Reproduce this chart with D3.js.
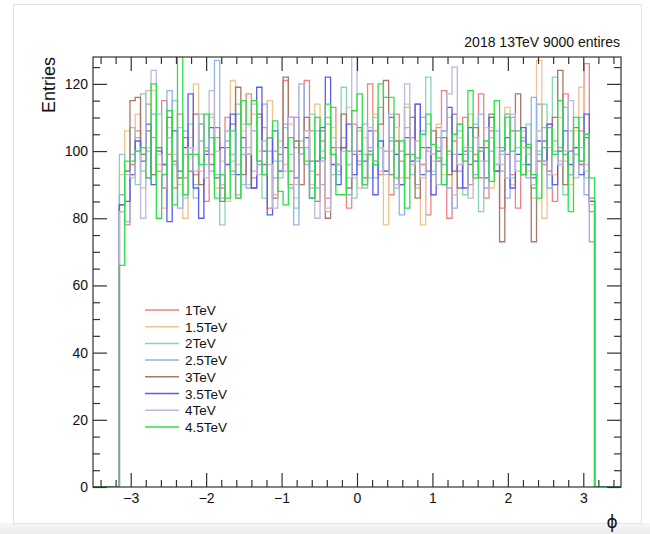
<!DOCTYPE html>
<html>
<head>
<meta charset="utf-8">
<script src="https://cdn.jsdelivr.net/npm/d3@7"></script>
<style>
  body { margin: 0; background: #fff; }
  svg text { font-family: "Liberation Sans", Arial, sans-serif; fill: #111; }
</style>
</head>
<body>
<div id="chart"></div>
<script>
// histogram: 100 bins on [-3.5, 3.5], filled bins are 5..94 (phi in [-pi, pi])
const binLow = -3.5, binWidth = 0.07, nBins = 100, firstFilled = 5;

const labels = ["1TeV", "1.5TeV", "2TeV", "2.5TeV", "3TeV", "3.5TeV", "4TeV", "4.5TeV"];
const colors = ["#ee8282", "#f2c290", "#88d5b6", "#92b2ee", "#a87868", "#5a5ef0", "#bfb8d8", "#2ee04a"];

const xTicks = [-3, -2, -1, 0, 1, 2, 3];
const yTicks = [0, 20, 40, 60, 80, 100, 120];

const h1TeV = [
  82, 78, 96, 106, 99, 114, 104, 94, 115, 99,
  89, 111, 92, 101, 93, 108, 85, 99, 104, 89,
  110, 94, 86, 101, 117, 92, 97, 107, 83, 100,
  94, 121, 90, 110, 99, 121, 106, 93, 103, 86,
  113, 96, 101, 83, 108, 97, 90, 120, 106, 93,
  100, 87, 111, 97, 92, 104, 114, 96, 81, 99,
  107, 118, 80, 103, 94, 110, 90, 99, 117, 86,
  106, 96, 83, 111, 93, 83, 104, 99, 89, 114,
  96, 108, 85, 101, 117, 93, 99, 106, 126, 82
];
const h15TeV = [
  93, 106, 99, 111, 89, 101, 118, 96, 83, 107,
  99, 90, 80, 104, 120, 94, 101, 110, 89, 97,
  85, 121, 96, 106, 90, 111, 100, 93, 115, 87,
  103, 96, 108, 86, 99, 106, 90, 114, 97, 83,
  107, 94, 101, 113, 92, 89, 104, 99, 111, 94,
  78, 100, 107, 92, 114, 96, 89, 78, 101, 97,
  108, 93, 99, 87, 104, 97, 111, 92, 100, 107,
  89, 101, 96, 113, 90, 99, 106, 94, 86, 127,
  80, 101, 93, 110, 97, 90, 106, 119, 96, 85
];
const h2TeV = [
  99, 94, 107, 90, 117, 100, 93, 111, 96, 104,
  115, 92, 99, 108, 86, 103, 96, 111, 93, 78,
  106, 99, 114, 90, 101, 94, 110, 86, 104, 97,
  92, 107, 99, 83, 103, 96, 111, 89, 100, 108,
  93, 101, 119, 96, 86, 106, 99, 92, 110, 101,
  94, 104, 89, 100, 113, 93, 97, 106, 122, 94,
  101, 90, 110, 99, 106, 87, 100, 108, 82, 97,
  104, 94, 99, 111, 92, 101, 96, 108, 89, 100,
  114, 93, 122, 97, 87, 106, 99, 110, 92, 85
];
const h25TeV = [
  87, 79, 99, 104, 94, 92, 111, 101, 89, 118,
  96, 83, 106, 99, 90, 108, 101, 94, 127, 86,
  103, 93, 111, 99, 89, 106, 96, 114, 100, 92,
  97, 108, 89, 78, 120, 101, 94, 106, 90, 110,
  99, 93, 104, 87, 100, 96, 108, 101, 92, 113,
  94, 103, 99, 81, 107, 97, 90, 110, 100, 93,
  104, 96, 89, 83, 108, 99, 101, 93, 111, 89,
  100, 106, 94, 86, 110, 97, 103, 92, 116, 99,
  107, 89, 100, 96, 113, 93, 101, 97, 87, 73
];
const h3TeV = [
  84, 94, 115, 116, 99, 106, 93, 101, 89, 110,
  97, 92, 104, 94, 111, 90, 100, 96, 107, 85,
  101, 108, 119, 93, 99, 89, 111, 96, 104, 86,
  99, 122, 94, 103, 90, 110, 97, 85, 106, 80,
  101, 96, 111, 89, 99, 107, 92, 100, 97, 108,
  121, 93, 103, 90, 99, 110, 86, 101, 94, 106,
  97, 104, 93, 111, 89, 100, 96, 107, 92, 101,
  111, 94, 73, 99, 106, 117, 93, 101, 73, 97,
  103, 94, 110, 124, 90, 100, 107, 96, 104, 86
];
const h35TeV = [
  84, 85, 93, 103, 97, 108, 90, 100, 96, 79,
  106, 94, 101, 117, 89, 80, 99, 107, 92, 101,
  96, 111, 93, 104, 99, 89, 119, 100, 81, 106,
  94, 101, 110, 92, 99, 104, 86, 97, 107, 122,
  96, 90, 101, 108, 93, 100, 97, 106, 87, 103,
  94, 110, 99, 90, 104, 97, 114, 93, 101, 87,
  100, 106, 113, 94, 99, 89, 107, 97, 101, 92,
  110, 94, 100, 104, 89, 99, 107, 96, 92, 103,
  97, 108, 90, 100, 106, 96, 101, 93, 111, 85
];
const h4TeV = [
  82, 93, 92, 100, 80, 118, 124, 99, 89, 104,
  96, 107, 86, 101, 94, 111, 92, 118, 100, 90,
  106, 97, 87, 108, 99, 114, 93, 103, 96, 83,
  101, 94, 110, 90, 99, 106, 89, 80, 97, 82,
  104, 96, 100, 92, 135, 99, 89, 107, 97, 101,
  93, 111, 90, 100, 120, 96, 103, 92, 108, 99,
  90, 106, 117, 125, 96, 101, 86, 104, 97, 89,
  107, 96, 100, 92, 111, 94, 101, 99, 90, 106,
  97, 93, 103, 96, 100, 115, 92, 101, 94, 84
];
const h45TeV = [
  66, 97, 97, 100, 101, 92, 120, 80, 93, 112,
  84, 135, 87, 99, 99, 96, 111, 104, 86, 93,
  86, 106, 86, 115, 108, 115, 97, 93, 104, 109,
  88, 84, 104, 101, 101, 97, 86, 110, 98, 114,
  99, 87, 87, 100, 112, 117, 90, 99, 96, 120,
  116, 116, 92, 103, 83, 99, 98, 105, 111, 102,
  98, 90, 100, 105, 108, 97, 118, 92, 100, 103,
  91, 115, 101, 110, 100, 106, 93, 102, 93, 86,
  101, 107, 99, 115, 99, 82, 110, 97, 105, 92
];
const series = [h1TeV, h15TeV, h2TeV, h25TeV, h3TeV, h35TeV, h4TeV, h45TeV];

const W = 650, H = 534;
const m = { left: 93, right: 621, top: 57, bottom: 487 };

const svg = d3.select("#chart").append("svg")
  .attr("width", W).attr("height", H);

// window-ish backdrop like the screenshot
svg.append("rect").attr("x", 0).attr("y", 0).attr("width", W).attr("height", H).attr("fill", "#fff");
const grad = svg.append("defs").append("linearGradient")
  .attr("id", "bot").attr("x1", 0).attr("x2", 0).attr("y1", 0).attr("y2", 1);
grad.append("stop").attr("offset", "0%").attr("stop-color", "#f7f7f7");
grad.append("stop").attr("offset", "100%").attr("stop-color", "#ececec");
svg.append("rect").attr("x", 0).attr("y", 523).attr("width", W).attr("height", 11).attr("fill", "url(#bot)");
svg.append("rect").attr("x", 13.5).attr("y", 4.5).attr("width", 628).attr("height", 519)
  .attr("fill", "none").attr("stroke", "#e2e2e2");

const x = d3.scaleLinear().domain([-3.5, 3.5]).range([m.left, m.right]);
const y = d3.scaleLinear().domain([0, 128]).range([m.bottom, m.top]);

svg.append("defs").append("clipPath").attr("id", "clip")
  .append("rect").attr("x", m.left).attr("y", m.top)
  .attr("width", m.right - m.left).attr("height", m.bottom - m.top);

// step outline of a full histogram (empty bins drawn at zero)
function stepPath(vals) {
  const pts = [];
  pts.push([x(binLow), y(0)]);
  for (let k = 0; k < nBins; k++) {
    const j = k - firstFilled;
    const v = (j >= 0 && j < vals.length) ? vals[j] : 0;
    pts.push([x(binLow + k * binWidth), y(v)]);
    pts.push([x(binLow + (k + 1) * binWidth), y(v)]);
  }
  return d3.line()(pts);
}

const g = svg.append("g").attr("clip-path", "url(#clip)");
series.forEach((vals, i) => {
  g.append("path")
    .attr("d", stepPath(vals))
    .attr("fill", "none")
    .attr("stroke", colors[i])
    .attr("stroke-width", 1.3);
});

// axes, ROOT style: ticks inside the frame on all four sides
const axisCol = "#333";
const xMinor = d3.range(-3.4, 3.5, 0.2).map(v => +v.toFixed(1)).filter(v => !xTicks.includes(v));
const yMinor = d3.range(0, 129, 5).filter(v => !yTicks.includes(v));

function styleAxis(sel) {
  sel.select(".domain").remove();
  sel.selectAll("line").attr("stroke", axisCol).attr("stroke-width", 1.2);
  sel.selectAll("text").attr("font-size", 14).attr("fill", "#111");
}

svg.append("g").attr("transform", `translate(0,${m.bottom})`)
  .call(d3.axisBottom(x).tickValues(xTicks).tickSize(-14).tickPadding(6).tickFormat(d3.format("d")))
  .call(styleAxis);
svg.append("g").attr("transform", `translate(0,${m.bottom})`)
  .call(d3.axisBottom(x).tickValues(xMinor).tickSize(-7).tickFormat(""))
  .call(styleAxis);
svg.append("g").attr("transform", `translate(0,${m.top})`)
  .call(d3.axisTop(x).tickValues(xTicks).tickSize(-14).tickFormat(""))
  .call(styleAxis);
svg.append("g").attr("transform", `translate(0,${m.top})`)
  .call(d3.axisTop(x).tickValues(xMinor).tickSize(-7).tickFormat(""))
  .call(styleAxis);

svg.append("g").attr("transform", `translate(${m.left},0)`)
  .call(d3.axisLeft(y).tickValues(yTicks).tickSize(-14).tickPadding(5))
  .call(styleAxis);
svg.append("g").attr("transform", `translate(${m.left},0)`)
  .call(d3.axisLeft(y).tickValues(yMinor).tickSize(-7).tickFormat(""))
  .call(styleAxis);
svg.append("g").attr("transform", `translate(${m.right},0)`)
  .call(d3.axisRight(y).tickValues(yTicks).tickSize(-14).tickFormat(""))
  .call(styleAxis);
svg.append("g").attr("transform", `translate(${m.right},0)`)
  .call(d3.axisRight(y).tickValues(yMinor).tickSize(-7).tickFormat(""))
  .call(styleAxis);

// frame
svg.append("rect")
  .attr("x", m.left).attr("y", m.top)
  .attr("width", m.right - m.left).attr("height", m.bottom - m.top)
  .attr("fill", "none").attr("stroke", axisCol).attr("stroke-width", 1.2);

// titles
svg.append("text")
  .attr("x", m.right - 1).attr("y", 47)
  .attr("text-anchor", "end").attr("font-size", 14)
  .text("2018 13TeV 9000 entires");

svg.append("text")
  .attr("transform", `translate(55,${m.top}) rotate(-90)`)
  .attr("text-anchor", "end").attr("font-size", 18)
  .text("Entries");

svg.append("text")
  .attr("x", 612).attr("y", 528)
  .attr("text-anchor", "middle").attr("font-size", 17)
  .style("font-family", "'DejaVu Sans', sans-serif")
  .text("\u03D5");

// legend
const leg = svg.append("g");
labels.forEach((lab, i) => {
  const ly = 310 + i * 16.7;
  leg.append("line")
    .attr("x1", 145).attr("x2", 179).attr("y1", ly).attr("y2", ly)
    .attr("stroke", colors[i]).attr("stroke-width", 1.5);
  leg.append("text")
    .attr("x", 185).attr("y", ly + 5)
    .attr("font-size", 13.5)
    .text(lab);
});
</script>
</body>
</html>
